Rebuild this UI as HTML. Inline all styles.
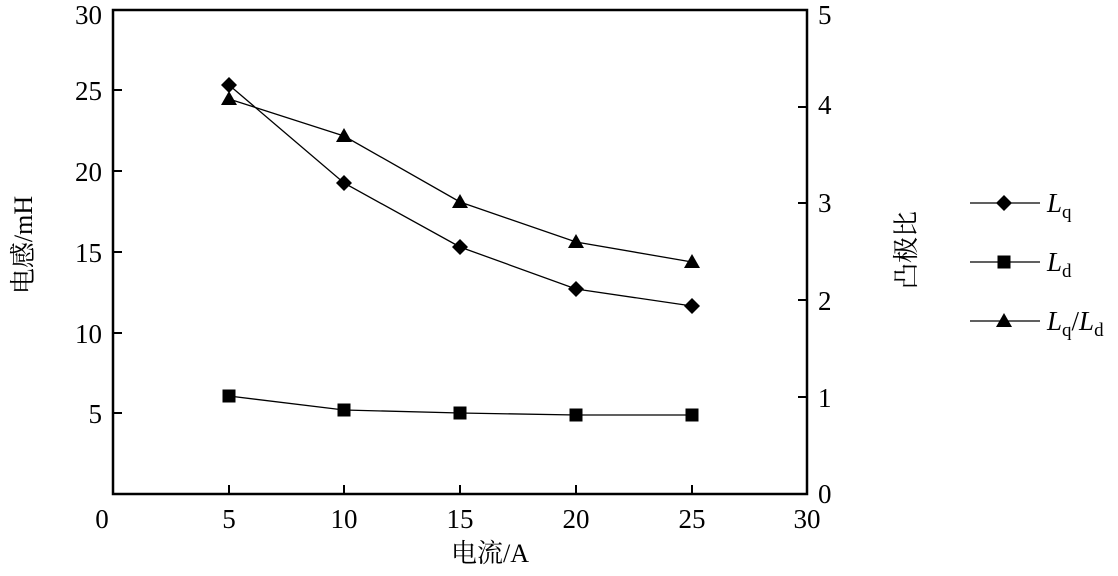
<!DOCTYPE html>
<html><head><meta charset="utf-8"><style>
body{margin:0;background:#fff;}
text{font-family:"Liberation Serif","Noto Serif CJK SC",serif;fill:#000;}
</style></head><body>
<svg width="1118" height="571" xmlns="http://www.w3.org/2000/svg">
<defs>
<symbol id="dia" overflow="visible"><polygon points="0,-8 8,0 0,8 -8,0"/></symbol>
<symbol id="sq" overflow="visible"><rect x="-6.5" y="-6.5" width="13" height="13"/></symbol>
<symbol id="tri" overflow="visible"><polygon points="0,-8 8,6 -8,6"/></symbol>
</defs>
<rect x="113" y="10" width="694" height="484" fill="none" stroke="#000" stroke-width="2.5"/>
<g stroke="#000" stroke-width="2">
<line x1="113" y1="413" x2="122" y2="413"/><line x1="113" y1="333" x2="122" y2="333"/>
<line x1="113" y1="252" x2="122" y2="252"/><line x1="113" y1="171" x2="122" y2="171"/>
<line x1="113" y1="90" x2="122" y2="90"/>
<line x1="229" y1="494" x2="229" y2="485"/><line x1="344" y1="494" x2="344" y2="485"/>
<line x1="460" y1="494" x2="460" y2="485"/><line x1="576" y1="494" x2="576" y2="485"/>
<line x1="692" y1="494" x2="692" y2="485"/>
<line x1="807" y1="397" x2="798" y2="397"/><line x1="807" y1="300" x2="798" y2="300"/>
<line x1="807" y1="203" x2="798" y2="203"/><line x1="807" y1="107" x2="798" y2="107"/>
</g>
<g font-size="27" text-anchor="end">
<text x="102" y="24">30</text><text x="102" y="100">25</text><text x="102" y="181">20</text>
<text x="102" y="262">15</text><text x="102" y="343">10</text><text x="102" y="423">5</text>
</g>
<g font-size="27" text-anchor="middle">
<text x="102" y="528">0</text><text x="229" y="528">5</text><text x="344" y="528">10</text>
<text x="460" y="528">15</text><text x="576" y="528">20</text><text x="692" y="528">25</text><text x="807" y="528">30</text>
</g>
<g font-size="27">
<text x="818" y="24">5</text><text x="818" y="114">4</text><text x="818" y="310">2</text>
<text x="818" y="212">3</text><text x="818" y="407">1</text><text x="818" y="503">0</text>
</g>
<text font-size="26" text-anchor="middle" transform="translate(32,245) rotate(-90)">电感/mH</text>
<text font-size="26" text-anchor="middle" transform="translate(915,250) rotate(-90)">凸极比</text>
<text font-size="26" x="490" y="562" text-anchor="middle">电流/A</text>
<g fill="none" stroke="#000" stroke-width="1.3">
<polyline points="229,85 344,183 460,247 576,289 692,306"/>
<polyline points="229,396 344,410 460,413 576,415 692,415"/>
<polyline points="229,99 344,136 460,202 576,242 692,262"/>
<line x1="970" y1="203" x2="1040" y2="203"/>
<line x1="970" y1="262" x2="1040" y2="262"/>
<line x1="970" y1="321" x2="1040" y2="321"/>
</g>
<g>
<use href="#dia" x="229" y="85"/><use href="#dia" x="344" y="183"/><use href="#dia" x="460" y="247"/><use href="#dia" x="576" y="289"/><use href="#dia" x="692" y="306"/>
<use href="#sq" x="229" y="396"/><use href="#sq" x="344" y="410"/><use href="#sq" x="460" y="413"/><use href="#sq" x="576" y="415"/><use href="#sq" x="692" y="415"/>
<use href="#tri" x="229" y="99"/><use href="#tri" x="344" y="136"/><use href="#tri" x="460" y="202"/><use href="#tri" x="576" y="242"/><use href="#tri" x="692" y="262"/>
<use href="#dia" x="1004" y="203"/><use href="#sq" x="1004" y="262"/><use href="#tri" x="1004" y="321"/>
</g>
<g font-size="27">
<text x="1047" y="212"><tspan font-style="italic">L</tspan><tspan font-size="19" dy="6">q</tspan></text>
<text x="1047" y="271"><tspan font-style="italic">L</tspan><tspan font-size="19" dy="6">d</tspan></text>
<text x="1047" y="330"><tspan font-style="italic">L</tspan><tspan font-size="19" dy="6">q</tspan><tspan dy="-6">/</tspan><tspan font-style="italic">L</tspan><tspan font-size="19" dy="6">d</tspan></text>
</g>
</svg>
</body></html>
